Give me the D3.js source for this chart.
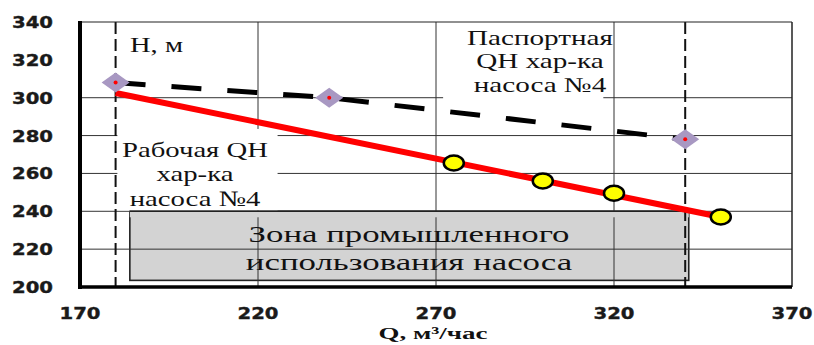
<!DOCTYPE html>
<html>
<head>
<meta charset="UTF-8">
<script src="https://d3js.org/d3.v7.min.js"></script>
<style>
  body { margin: 0; background: #fff; }
  svg { display: block; }
</style>
</head>
<body>
<div id="chart"></div>
<script>
  // data
  const xTicks = [170, 220, 270, 320, 370];
  const yTicks = [200, 220, 240, 260, 280, 300, 320, 340];
  const gridH = [220, 240, 260, 280, 300];
  const gridV = [220, 270, 320];
  const limitQ = [180, 340];               // vertical dashed lines
  const passportQ = [180, 240, 340];       // паспортная QH
  const passportH = [308, 300, 278];
  const workLineQ = [180, 350];            // рабочая QH (trend)
  const workLineH = [302.5, 237];
  const workPointQ = [275, 300, 320, 350];
  const workPointH = [265.5, 256, 249.5, 237];
  const zoneQ = [184, 341];
  const zoneH = [203.5, 240];

  const SERIF = '"Liberation Serif", "Times New Roman", Tinos, serif';
  const SANS = '"DejaVu Sans", sans-serif';

  const W = 814, H = 345;
  const x = d3.scaleLinear().domain([170, 370]).range([80, 792]);
  const y = d3.scaleLinear().domain([200, 340]).range([287, 22]);

  const svg = d3.select("#chart").append("svg")
      .attr("width", W).attr("height", H);

  // zone rectangle
  svg.append("rect")
      .attr("x", x(zoneQ[0])).attr("y", y(zoneH[1]))
      .attr("width", x(zoneQ[1]) - x(zoneQ[0]))
      .attr("height", y(zoneH[0]) - y(zoneH[1]))
      .attr("fill", "#d3d3d3").attr("stroke", "#222").attr("stroke-width", 1.6);

  // grid
  svg.append("g").selectAll("line").data(gridH).join("line")
      .attr("x1", x(170)).attr("x2", x(370))
      .attr("y1", d => y(d)).attr("y2", d => y(d))
      .attr("stroke", "#333").attr("stroke-width", 1);
  svg.append("g").selectAll("line").data(gridV).join("line")
      .attr("x1", d => x(d)).attr("x2", d => x(d))
      .attr("y1", y(340)).attr("y2", y(200))
      .attr("stroke", "#333").attr("stroke-width", 1);

  // white boxes behind the annotations
  const boxes = [
    { q0: 180.5, q1: 225.5, h0: 240.5, h1: 283.5 },
    { q0: 272, q1: 317, h0: 298.6, h1: 339.5 }
  ];
  svg.append("g").selectAll("rect").data(boxes).join("rect")
      .attr("x", d => x(d.q0)).attr("y", d => y(d.h1))
      .attr("width", d => x(d.q1) - x(d.q0))
      .attr("height", d => y(d.h0) - y(d.h1))
      .attr("fill", "#fff");

  // text block, stretched horizontally so the first line gets the width seen in the reference
  function label(cx, base, lines, size, lh, width, opts = {}) {
    const g = svg.append("g");
    const nodes = lines.map((t, i) => g.append("text")
        .attr("x", 0).attr("y", i * lh)
        .attr("text-anchor", opts.anchor || "middle")
        .style("font-family", opts.family || SERIF)
        .style("font-weight", opts.weight || "normal")
        .style("font-size", size + "px")
        .attr("fill", opts.fill || "#111")
        .text(t));
    const sx = width / nodes[0].node().getComputedTextLength();
    g.attr("transform", `translate(${cx},${base}) scale(${sx},1)`);
    return nodes;
  }

  label(195, 157, ["Рабочая QH", "хар-ка", "насоса №4"], 22, 24.5, 146);
  label(540, 45, ["Паспортная", "QH хар-ка", "насоса №4"], 21, 23.5, 146);
  label(130, 52, ["H, м"], 21, 0, 53, { anchor: "start" });

  // zone top drawn again so the last annotation line is cut like in the reference
  svg.append("rect")
      .attr("x", x(zoneQ[0])).attr("y", y(zoneH[1]))
      .attr("width", x(zoneQ[1]) - x(zoneQ[0])).attr("height", 6)
      .attr("fill", "#d3d3d3");
  svg.append("line")
      .attr("x1", x(zoneQ[0])).attr("x2", x(zoneQ[1]))
      .attr("y1", y(zoneH[1])).attr("y2", y(zoneH[1]))
      .attr("stroke", "#222").attr("stroke-width", 1.6);

  label(409, 242, ["Зона промышленного", "использования насоса"], 24, 28, 321);

  // vertical dashed limits
  svg.append("g").selectAll("line").data(limitQ).join("line")
      .attr("x1", d => x(d)).attr("x2", d => x(d))
      .attr("y1", y(340)).attr("y2", y(200))
      .attr("stroke", "#111").attr("stroke-width", 2)
      .attr("stroke-dasharray", "12,5");

  // frame
  svg.append("line").attr("x1", x(170)).attr("x2", x(370)).attr("y1", y(340)).attr("y2", y(340))
      .attr("stroke", "#222").attr("stroke-width", 1.2);
  svg.append("line").attr("x1", x(370)).attr("x2", x(370)).attr("y1", y(340)).attr("y2", y(200))
      .attr("stroke", "#222").attr("stroke-width", 1.5);
  svg.append("line").attr("x1", x(170)).attr("x2", x(170)).attr("y1", y(340) - 1).attr("y2", y(200) + 2)
      .attr("stroke", "#000").attr("stroke-width", 4);
  svg.append("line").attr("x1", x(170) - 2).attr("x2", x(370)).attr("y1", y(200)).attr("y2", y(200))
      .attr("stroke", "#000").attr("stroke-width", 3.5);

  // tick labels
  yTicks.forEach(v => {
    label(53, y(v) + 6, [String(v)], 16.5, 0, 41,
      { family: SANS, weight: "bold", anchor: "end", fill: "#1a1a1a" })[0]
      .attr("stroke", "#1a1a1a").attr("stroke-width", 0.4);
  });
  xTicks.forEach(v => {
    label(x(v), 319, [String(v)], 16.5, 0, 41,
      { family: SANS, weight: "bold", fill: "#1a1a1a" })[0]
      .attr("stroke", "#1a1a1a").attr("stroke-width", 0.4);
  });
  label(433, 339, ["Q, м³/час"], 17, 0, 109, { weight: "bold" });

  // working curve
  const line = d3.line().x(d => x(d[0])).y(d => y(d[1]));
  svg.append("path")
      .attr("d", line(d3.zip(workLineQ, workLineH)))
      .attr("fill", "none").attr("stroke", "#ff0000").attr("stroke-width", 6);

  // passport curve
  svg.append("path")
      .attr("d", line(d3.zip(passportQ, passportH)))
      .attr("fill", "none").attr("stroke", "#000").attr("stroke-width", 5)
      .attr("stroke-dasharray", "30,26");

  // passport points (diamonds)
  const pp = svg.append("g").selectAll("g").data(d3.zip(passportQ, passportH)).join("g")
      .attr("transform", d => `translate(${x(d[0])},${y(d[1])})`);
  pp.append("path").attr("d", "M-14,0L0,-10L14,0L0,10Z").attr("fill", "#a898c2");
  pp.append("circle").attr("r", 2).attr("fill", "#ff0000");

  // working points
  svg.append("g").selectAll("ellipse").data(d3.zip(workPointQ, workPointH)).join("ellipse")
      .attr("cx", d => x(d[0])).attr("cy", d => y(d[1]))
      .attr("rx", 10).attr("ry", 7.5)
      .attr("fill", "#ffff00").attr("stroke", "#000").attr("stroke-width", 2.5);
</script>
</body>
</html>
